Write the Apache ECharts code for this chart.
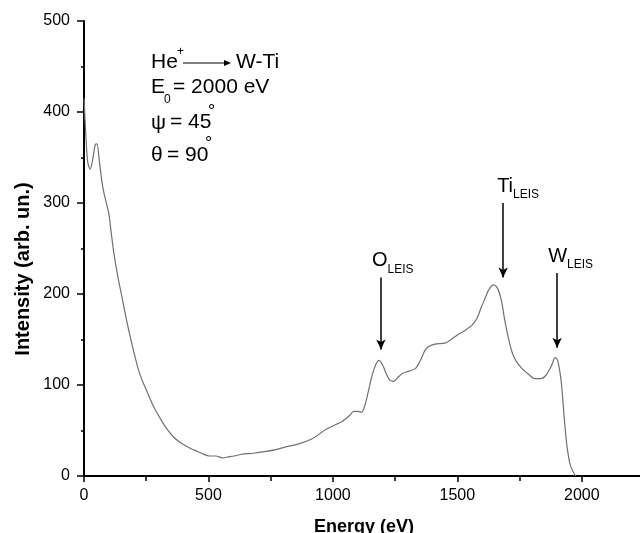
<!DOCTYPE html>
<html>
<head>
<meta charset="utf-8">
<script src="https://cdn.jsdelivr.net/npm/echarts@6/dist/echarts.min.js"></script>
<style>html,body{margin:0;padding:0;background:#fff;overflow:hidden}#c{width:640px;height:533px}</style>
</head>
<body>
<div id="c"></div>
<script>
// Energy (eV)
var energy = [0,8,15,25,35,45,52,62,75,88,100,109,120,136,150,163,175,189,205,223,240,256,280,309,335,363,385,403,430,456,480,503,530,556,580,603,637,680,731,770,811,860,917,950,971,1000,1037,1065,1084,1100,1115,1131,1144,1155,1170,1185,1200,1215,1230,1244,1260,1280,1304,1331,1350,1370,1384,1410,1451,1475,1500,1531,1560,1580,1597,1611,1625,1644,1660,1677,1690,1704,1720,1737,1760,1785,1811,1835,1857,1878,1893,1903,1915,1922,1928,1934,1941,1951,1961,1975];
// Intensity (arb. un.)
var intensity = [415,372,345,337,348,364,365,345,318,302,288,268,245,219,200,182,166,149,131,113,101,91,76,62,51,42,37,34,30,27,24,22,22,20,21,22,24,25,27,29,32,35,41,47,51,55,60,66,71,71,70,80,95,108,121,127,122,112,105,104,108,113,115,118,126,138,142,145,146,150,155,160,166,174,186,195,204,210,207,193,172,153,136,126,118,112,107,107,111,121,130,127,109,90,69,50,32,15,7,0];
// peak annotations
var peakNames = ['O', 'Ti', 'W'];
var peakEnergy = [1193, 1684, 1901];
var peakArrowTop = [218, 300, 223];
var peakArrowTip = [139, 218, 141];
var peakLabelShift = [-9, -6, -9];

var xTicks = [0, 500, 1000, 1500, 2000];
var yTicks = [0, 100, 200, 300, 400, 500];

var FONT = '"Liberation Sans", Arial, sans-serif';
var chart = echarts.init(document.getElementById('c'), null, {renderer: 'canvas'});

var seriesData = energy.map(function (e, i) { return [e, intensity[i]]; });

var arrowLines = peakNames.map(function (n, i) {
  return [{coord: [peakEnergy[i], peakArrowTop[i]]}, {coord: [peakEnergy[i], peakArrowTip[i]]}];
});
var peakLabels = peakNames.map(function (n, i) {
  return {
    coord: [peakEnergy[i], peakArrowTop[i]],
    label: {offset: [peakLabelShift[i], 0], formatter: '{m|' + n + '}{s|LEIS}'}
  };
});

var txt = function (s, x, y, size, extra) {
  var o = {type: 'text', x: x, y: y, silent: true,
    style: {text: s, font: size + 'px ' + FONT, fill: '#000', align: 'left', verticalAlign: 'middle'}};
  if (extra) for (var k in extra) o[k] = extra[k];
  return o;
};

chart.setOption({
  animation: false,
  backgroundColor: '#fff',
  grid: {left: 84, right: -4, top: 21, bottom: 57, containLabel: false, outerBoundsMode: 'none'},
  xAxis: {
    type: 'value', min: 0, max: 2250, interval: 500,
    name: 'Energy (eV)', nameLocation: 'middle', nameGap: 42,
    nameTextStyle: {fontFamily: FONT, fontWeight: 'bold', fontSize: 18, color: '#000'},
    axisLine: {show: true, onZero: false, lineStyle: {color: '#000', width: 2}},
    axisTick: {show: true, length: 6, lineStyle: {color: '#000', width: 1.5}},
    minorTick: {show: true, splitNumber: 2, length: 5, lineStyle: {color: '#000', width: 1.5}},
    splitLine: {show: false},
    axisLabel: {margin: 12, fontFamily: FONT, fontSize: 16, color: '#000',
      formatter: function (v) { return xTicks.indexOf(v) >= 0 ? String(v) : ''; }}
  },
  yAxis: {
    type: 'value', min: 0, max: 500, interval: 100,
    axisLine: {show: true, onZero: false, lineStyle: {color: '#000', width: 2}},
    axisTick: {show: true, length: 7, lineStyle: {color: '#000', width: 1.5}},
    minorTick: {show: true, splitNumber: 2, length: 3, lineStyle: {color: '#000', width: 1.5}},
    splitLine: {show: false},
    axisLabel: {margin: 14, fontFamily: FONT, fontSize: 16, color: '#000',
      formatter: function (v) { return yTicks.indexOf(v) >= 0 ? String(v) : ''; }}
  },
  series: [{
    type: 'line',
    data: seriesData,
    smooth: 0.3,
    showSymbol: false,
    lineStyle: {color: '#707070', width: 1.2},
    markLine: {
      silent: true, animation: false,
      symbol: ['none', 'arrow'], symbolSize: [7, 10],
      lineStyle: {color: '#000', width: 1.5, type: 'solid'},
      label: {show: false},
      data: arrowLines
    },
    markPoint: {
      silent: true, animation: false,
      symbol: 'circle', symbolSize: 0,
      label: {
        show: true, position: 'top', align: 'left', distance: 2,
        rich: {
          m: {fontFamily: FONT, fontSize: 20, color: '#000', lineHeight: 20},
          s: {fontFamily: FONT, fontSize: 12, color: '#000', padding: [18, 0, 0, 0]}
        }
      },
      data: peakLabels
    }
  }],
  graphic: [
    txt('He', 151, 62, 21),
    txt('+', 177, 52, 12),
    {type: 'line', silent: true, shape: {x1: 183, y1: 63, x2: 226, y2: 63}, style: {stroke: '#000', lineWidth: 1}},
    {type: 'polygon', silent: true, shape: {points: [[224, 60], [231, 63], [224, 66]]}, style: {fill: '#000'}},
    txt('W-Ti', 236, 62, 21),
    txt('E', 151, 87, 21),
    txt('0', 164, 100, 12),
    txt('= 2000 eV', 173, 87, 21),
    txt('\u03C8', 151, 123, 21),
    txt('= 45', 170, 122, 21),
    txt('\u00B0', 208, 112, 18),
    txt('\u03B8', 151, 155, 21),
    txt('= 90', 167, 155, 21),
    txt('\u00B0', 205, 144, 18),
    {type: 'text', x: 23, y: 269, rotation: Math.PI / 2, silent: true,
      style: {text: 'Intensity (arb. un.)', font: 'bold 20px ' + FONT, fill: '#000', align: 'center', verticalAlign: 'middle'}}
  ]
});
</script>
</body>
</html>
